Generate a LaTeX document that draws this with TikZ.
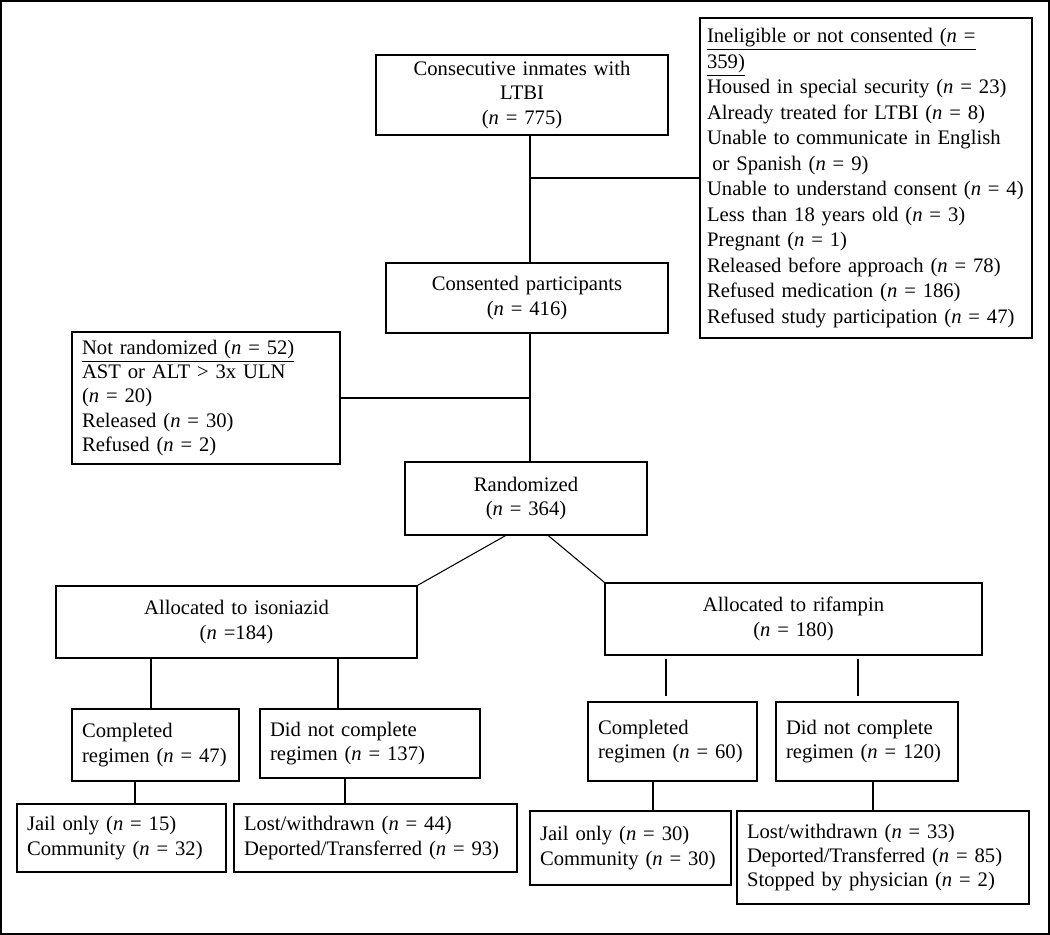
\documentclass[tikz,border=0pt]{standalone}
\usepackage{fontspec}
\setmainfont{Liberation Serif}[WordSpace=0.7]
\tikzset{
  box/.style={draw, line width=0.8pt, inner xsep=0.2cm, inner ysep=2pt, font=\fontsize{11.75}{13.8}\selectfont},
  lbox/.style={box, align=left},
  cbox/.style={box, align=center},
  link/.style={line width=0.6pt}
}
\begin{document}
\begin{tikzpicture}[x=0.02cm, y=-0.02cm]
\useasboundingbox (0,0) rectangle (1050,935);
\draw[line width=1.5pt] (1,1) rectangle (1049,934);
% enrolment and exclusions
\node[cbox, text width=5.44cm, minimum height=1.6cm] (inmates) at (522,95) {Consecutive inmates with\\ LTBI\\ (\textit{n} = 775)};
\node[lbox, inner xsep=0.14cm, text width=6.36cm, minimum height=6.4cm, font=\fontsize{11.75}{14.5}\selectfont] (inelig) at (866,178) {\underline{Ineligible or not consented (\textit{n} =}\\ \underline{359)}\\ Housed in special security (\textit{n} = 23)\\ Already treated for LTBI (\textit{n} = 8)\\ Unable to communicate in English\\ \hspace*{3pt}or Spanish (\textit{n} = 9)\\ Unable to understand consent (\textit{n} = 4)\\ Less than 18 years old (\textit{n} = 3)\\ Pregnant (\textit{n} = 1)\\ Released before approach (\textit{n} = 78)\\ Refused medication (\textit{n} = 186)\\ Refused study participation (\textit{n} = 47)};
\node[cbox, text width=5.24cm, minimum height=1.4cm] (consented) at (527,298) {Consented participants\\ (\textit{n} = 416)};
\node[lbox, text width=4.96cm, minimum height=2.64cm] (notrand) at (206,398) {\underline{Not randomized (\textit{n} = 52)}\\ AST or ALT > 3x ULN\\ (\textit{n} = 20)\\ Released (\textit{n} = 30)\\ Refused (\textit{n} = 2)};
\node[cbox, text width=4.44cm, minimum height=1.46cm] (random) at (526,498.5) {Randomized\\ (\textit{n} = 364)};
% arms
\node[cbox, text width=6.82cm, minimum height=1.44cm] (iso) at (236.5,622) {Allocated to isoniazid\\ (\textit{n} =184)};
\node[cbox, text width=7.14cm, minimum height=1.44cm] (rif) at (793.5,619) {Allocated to rifampin\\ (\textit{n} = 180)};
\node[lbox, text width=2.94cm, minimum height=1.44cm] (isocomp) at (155.5,745) {Completed\\ regimen (\textit{n} = 47)};
\node[lbox, text width=4.0cm, minimum height=1.38cm] (isonot) at (370,743.5) {Did not complete\\ regimen (\textit{n} = 137)};
\node[lbox, text width=2.98cm, minimum height=1.58cm] (rifcomp) at (672.5,741.5) {Completed\\ regimen (\textit{n} = 60)};
\node[lbox, text width=3.24cm, minimum height=1.58cm] (rifnot) at (867,741.5) {Did not complete\\ regimen (\textit{n} = 120)};
% outcomes
\node[lbox, text width=3.78cm, minimum height=1.36cm] (isojail) at (121.5,838) {Jail only (\textit{n} = 15)\\ Community (\textit{n} = 32)};
\node[lbox, text width=5.26cm, minimum height=1.36cm] (isolost) at (375.5,838) {Lost/withdrawn (\textit{n} = 44)\\ Deported/Transferred (\textit{n} = 93)};
\node[lbox, text width=3.62cm, minimum height=1.48cm] (rifjail) at (630.5,848) {Jail only (\textit{n} = 30)\\ Community (\textit{n} = 30)};
\node[lbox, text width=5.44cm, minimum height=1.86cm] (riflost) at (883,857.5) {Lost/withdrawn (\textit{n} = 33)\\ Deported/Transferred (\textit{n} = 85)\\ Stopped by physician (\textit{n} = 2)};
% connectors
\coordinate (trunk) at (530,0);
\draw[link] (inmates.south -| trunk) -- (consented.north -| trunk);
\draw[link] (inelig.west -| trunk) -- (inelig.west);
\draw[link] (consented.south -| trunk) -- (random.north -| trunk);
\draw[link] (notrand.east) -- (notrand.east -| trunk);
\draw[link] (random.241) -- (iso.north east);
\draw[link] (random.301) -- (rif.north west);
\draw[link] (iso.south -| 151,0) -- (isocomp.north -| 151,0);
\draw[link] (iso.south -| 338,0) -- (isonot.north -| 338,0);
\draw[link, shorten <=0.06cm, shorten >=0.1cm] (rif.south -| 666,0) -- (rifcomp.north -| 666,0);
\draw[link, shorten <=0.06cm, shorten >=0.1cm] (rif.south -| 858,0) -- (rifnot.north -| 858,0);
\draw[link] (isocomp.south -| 135,0) -- (isojail.north -| 135,0);
\draw[link] (isonot.south -| 345,0) -- (isolost.north -| 345,0);
\draw[link] (rifcomp.south -| 653,0) -- (rifjail.north -| 653,0);
\draw[link] (rifnot.south -| 873,0) -- (riflost.north -| 873,0);
\end{tikzpicture}
\end{document}
